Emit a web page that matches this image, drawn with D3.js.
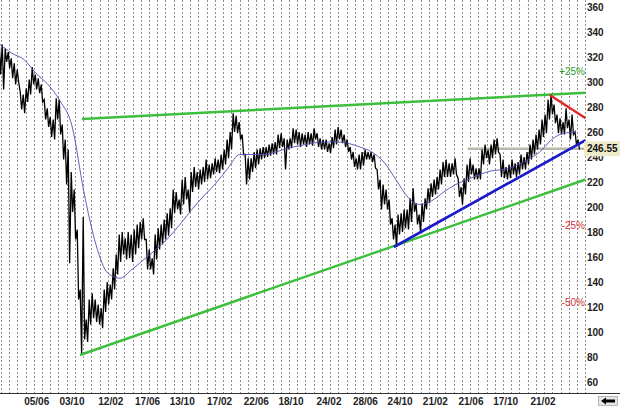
<!DOCTYPE html>
<html><head><meta charset="utf-8">
<script src="https://cdn.jsdelivr.net/npm/d3@7"></script>
<style>body{margin:0;background:#fff}svg{display:block}text{font-family:"Liberation Sans",Arial,Helvetica,sans-serif}</style>
</head><body><svg id="c" width="620" height="407"></svg>
<script>
// ---------- data ----------
const sampleStart = "2008-02-01";
const sampleStepDays = 10.2;
const hi = [331,330,327,324,319,315,310,292,290,295,302,312,306,303,298,286,279,272,270,287,
286,266,254,246,228,214,182,134,192,110,126,131,126,122,119,134,140,138,151,162,
178,180,175,180,178,182,186,188,191,174,166,159,178,183,186,190,195,199,214,212,
206,222,224,214,228,232,228,230,232,238,234,235,239,238,242,246,254,260,275,273,
268,258,242,239,239,244,246,247,248,248,250,251,252,258,259,255,254,255,263,262,
260,259,258,260,259,263,259,255,254,254,251,256,262,264,262,258,254,248,244,239,
242,244,246,244,244,242,230,222,218,214,206,191,186,194,195,198,198,207,215,203,
194,203,207,215,219,222,224,230,236,238,235,235,239,223,216,223,234,239,234,231,
231,246,250,246,250,254,255,242,238,232,234,238,235,236,242,240,244,250,254,258,
262,270,274,286,290,282,274,271,268,279,270,274,260,254];
const lo = [306,294,316,311,303,298,300,278,275,284,290,298,294,291,284,270,264,256,254,270,
258,238,218,155,196,174,126,83,94,92,106,111,108,106,103,116,122,126,134,146,
156,162,158,159,156,162,167,174,174,150,150,146,158,166,170,174,177,183,195,198,
194,202,206,196,212,216,214,218,220,222,223,226,228,227,230,234,239,246,260,259,
254,242,218,222,228,231,234,238,239,240,241,242,242,247,248,230,246,247,251,250,
248,250,248,250,249,254,248,246,246,244,243,247,250,254,251,248,244,238,232,230,
230,233,238,238,236,231,214,198,202,198,186,174,168,178,180,183,182,188,196,186,
180,188,198,203,208,210,214,218,224,224,224,226,226,208,202,210,220,226,222,222,
222,234,239,234,239,242,244,224,223,222,223,226,224,226,230,230,234,238,242,246,
250,256,259,270,274,267,259,258,258,263,254,258,250,246];
const maEverySamples = 4;
const ma = [330,323,318,307,298,285,265,212,170,147,143,150,158,166,175,186,198,209,219,231,
242,242,242,244,247,249,251,252,252,251,248,244,236,222,208,202,205,212,218,222,
226,229,230,233,238,244,254,259,260];
const xTickDates = ["2008-06-05","2008-10-03","2009-02-12","2009-06-17","2009-10-13","2010-02-17",
"2010-06-22","2010-10-18","2011-02-24","2011-06-28","2011-10-24","2012-02-21","2012-06-21",
"2012-10-17","2013-02-21"];
const xTickLabels = ["05/06","03/10","12/02","17/06","13/10","17/02","22/06","18/10","24/02",
"28/06","24/10","21/02","21/06","17/10","21/02"];
const yTicks = [60,80,100,120,140,160,180,200,220,240,260,280,300,320,340,360];
const gridStart = "2008-02-04";
const gridStepDays = 28;
const lastPrice = 246.55;
const pctLabels = ["+25%","-25%","-50%"];
const pctFactors = [1.25,0.75,0.5];
const pctColors = ["#2ca02c","#cc3333","#cc3333"];
const greenUpper = [["2008-11-06",270.4],["2013-07-16",291.4]];
const greenLower = [["2008-10-30",81.6],["2013-07-16",222.0]];
const blueSupport = [["2011-10-03",168.0],["2013-07-16",253.5]];
const redResist = [["2013-03-16",289.6],["2013-07-16",271.0]];
const lastLineStart = "2012-06-10";
const plotEnd = "2013-07-16";

// ---------- scales ----------
const parse = d3.timeParse("%Y-%m-%d");
const DAY = 864e5;
const x = d3.scaleTime().domain([parse("2008-06-05"), parse("2013-02-21")]).range([36.7, 543]);
const y = d3.scaleLinear().domain([60, 360]).range([382, 7]);
const W = 620, H = 407, plotBottom = 393;
const plotRight = x(parse(plotEnd));

const svg = d3.select("#c");
svg.append("rect").attr("width", W).attr("height", H).attr("fill", "#fff");
svg.append("defs").append("clipPath").attr("id", "clip")
  .append("rect").attr("x", 0).attr("y", 0).attr("width", plotRight).attr("height", plotBottom);

// horizontal faint grid
svg.append("g").selectAll("line").data(yTicks).join("line")
  .attr("x1", 0).attr("x2", plotRight).attr("y1", d => y(d)).attr("y2", d => y(d))
  .attr("stroke", "#d8d8d8").attr("stroke-width", 0.6).attr("stroke-dasharray", "1,2");

// vertical dashed grid
const g0 = parse(gridStart);
const gridDates = [];
for (let d = g0; x(d) <= plotRight; d = new Date(d.getTime() + gridStepDays * DAY)) gridDates.push(d);
svg.append("g").selectAll("line").data(gridDates).join("line")
  .attr("x1", d => Math.round(x(d)) + 0.5).attr("x2", d => Math.round(x(d)) + 0.5)
  .attr("y1", 0).attr("y2", plotBottom)
  .attr("stroke", "#8e8e8e").attr("stroke-width", 1).attr("stroke-dasharray", "2,2");

const plot = svg.append("g").attr("clip-path", "url(#clip)");
const s0 = parse(sampleStart);
const sDate = i => new Date(s0.getTime() + i * sampleStepDays * DAY);

// green trend lines
const lineFrom = pts => d3.line().x(p => x(parse(p[0]))).y(p => y(p[1]))(pts);
plot.append("path").attr("d", lineFrom(greenUpper)).attr("stroke", "#3cbf3c").attr("stroke-width", 2.4).attr("fill", "none");
plot.append("path").attr("d", lineFrom(greenLower)).attr("stroke", "#3cbf3c").attr("stroke-width", 2.4).attr("fill", "none");

// last price gray line
plot.append("line").attr("x1", x(parse(lastLineStart))).attr("x2", plotRight)
  .attr("y1", y(lastPrice)).attr("y2", y(lastPrice))
  .attr("stroke", "#b8b8aa").attr("stroke-width", 2.4);

// price trace (hi/lo zigzag)
const pts = [];
hi.forEach((h, i) => {
  const xi = x(sDate(i));
  pts.push([xi - 0.7, y(h)]);
  pts.push([xi + 0.7, y(lo[i])]);
});
plot.append("path").attr("d", d3.line()(pts)).attr("fill", "none")
  .attr("stroke", "#000").attr("stroke-width", 1.3).attr("stroke-linejoin", "miter");

// moving average
plot.append("path")
  .attr("d", d3.line().curve(d3.curveMonotoneX)
    .x((v, k) => x(sDate(k * maEverySamples))).y(v => y(v))(ma))
  .attr("fill", "none").attr("stroke", "#4f4fb5").attr("stroke-width", 0.9);

// blue support and red resistance
plot.append("path").attr("d", lineFrom(blueSupport)).attr("stroke", "#1a1acc").attr("stroke-width", 2.6).attr("fill", "none");
plot.append("path").attr("d", lineFrom(redResist)).attr("stroke", "#dd2a2a").attr("stroke-width", 2.4).attr("fill", "none");

// percent labels
svg.append("g").selectAll("text").data(pctLabels).join("text")
  .attr("x", 585).attr("y", (d, i) => y(lastPrice * pctFactors[i]))
  .attr("dy", "0.35em").attr("text-anchor", "end")
  .attr("font-size", 10).attr("fill", (d, i) => pctColors[i]).text(d => d);

// y labels (the one hidden under the price tag is drawn first, tag covers it)
svg.append("g").selectAll("text").data(yTicks).join("text")
  .attr("x", 587).attr("y", d => y(d)).attr("dy", "0.36em")
  .attr("font-size", 10).attr("font-weight", "bold").attr("fill", "#222").text(d => d);

// last price tag
svg.append("rect").attr("x", 584).attr("y", y(lastPrice) - 7.5).attr("width", 36).attr("height", 15)
  .attr("fill", "#eeebc8");
svg.append("text").attr("x", 587).attr("y", y(lastPrice)).attr("dy", "0.36em")
  .attr("font-size", 10).attr("font-weight", "bold").attr("fill", "#111").text(lastPrice.toFixed(2));

// bottom axis line
svg.append("line").attr("x1", 0).attr("x2", W).attr("y1", plotBottom + 0.5).attr("y2", plotBottom + 0.5)
  .attr("stroke", "#333").attr("stroke-width", 1);

// x labels
svg.append("g").selectAll("text").data(xTickDates).join("text")
  .attr("x", d => x(parse(d))).attr("y", 401).attr("dy", "0.35em").attr("text-anchor", "middle")
  .attr("font-size", 10).attr("font-weight", "bold").attr("fill", "#222")
  .text((d, i) => xTickLabels[i]);

// scroll arrow button
svg.append("rect").attr("x", 598.5).attr("y", 396.5).attr("width", 19).attr("height", 9)
  .attr("fill", "#e6e6e6").attr("stroke", "#aaa").attr("stroke-width", 0.8);
svg.append("path").attr("d", "M601,401 L606,397.6 L606,399.6 L615,399.6 L615,402.4 L606,402.4 L606,404.4 Z")
  .attr("fill", "#000");
</script></body></html>
